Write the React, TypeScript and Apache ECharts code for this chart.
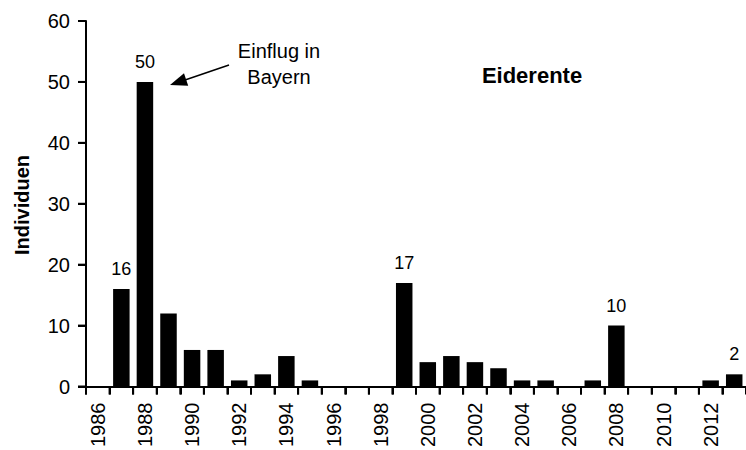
import React, { useEffect, useRef } from "react";
import * as echarts from "echarts";

const years: string[] = [
  "1986", "1987", "1988", "1989", "1990", "1991", "1992", "1993", "1994", "1995",
  "1996", "1997", "1998", "1999", "2000", "2001", "2002", "2003", "2004", "2005",
  "2006", "2007", "2008", "2009", "2010", "2011", "2012", "2013",
];
const individuen: number[] = [
  0, 16, 50, 12, 6, 6, 1, 2, 5, 1,
  0, 0, 0, 17, 4, 5, 4, 3, 1, 1,
  0, 1, 10, 0, 0, 0, 1, 2,
];
const labelledYears: string[] = ["1987", "1988", "1999", "2008", "2013"];
const yTickValues: number[] = [0, 10, 20, 30, 40, 50, 60];
const yTicks = { min: 0, max: 60, interval: 10 };
const titleText = "Eiderente";
const yAxisName = "Individuen";
const annotationText = "Einflug in\nBayern";

const FONT = "'Liberation Sans', Arial, sans-serif";
const TICK_LEN = 8;

export default function App() {
  const ref = useRef<HTMLDivElement>(null);
  useEffect(() => {
    if (!ref.current) return;
    const chart = echarts.init(ref.current, undefined, { renderer: "svg" });
    chart.setOption({
      animation: false,
      backgroundColor: "#ffffff",
      grid: { left: 86, right: -4.5, top: 21, bottom: 62 },
      xAxis: {
        type: "category",
        data: years,
        axisLine: { show: true, lineStyle: { color: "#000", width: 2 } },
        axisTick: { show: true, interval: 0, length: TICK_LEN, lineStyle: { color: "#000", width: 2 } },
        axisLabel: {
          interval: 1,
          rotate: 90,
          margin: 16,
          color: "#000",
          fontSize: 20,
          fontFamily: FONT,
        },
        splitLine: { show: false },
      },
      yAxis: {
        type: "value",
        min: yTicks.min,
        max: yTicks.max,
        interval: yTicks.interval,
        axisLine: { show: true, lineStyle: { color: "#000", width: 2 } },
        axisTick: { show: true, length: TICK_LEN, lineStyle: { color: "#000", width: 2 } },
        axisLabel: { margin: 16, color: "#000", fontSize: 20, fontFamily: FONT },
        splitLine: { show: false },
      },
      series: [
        {
          type: "bar",
          data: individuen.map((v, i) => ({
            value: v,
            label: { show: labelledYears.includes(years[i]) },
          })),
          barCategoryGap: "30%",
          itemStyle: { color: "#000" },
          label: {
            position: "top",
            distance: 11,
            color: "#000",
            fontSize: 18,
            fontFamily: FONT,
          },
        },
        {
          type: "custom",
          silent: true,
          clip: false,
          z: 10,
          data: yTickValues.map((v) => [0, v]),
          renderItem: (params: any, api: any) => {
            const p = api.coord([api.value(0), api.value(1)]);
            const x0 = params.coordSys.x;
            return {
              type: "line",
              shape: { x1: x0 - TICK_LEN, y1: p[1], x2: x0, y2: p[1] },
              style: { stroke: "#000", lineWidth: 2 },
            };
          },
        },
        {
          type: "custom",
          silent: true,
          clip: false,
          z: 10,
          data: years.map((_, i) => [i, 0]),
          renderItem: (params: any, api: any) => {
            const p = api.coord([api.value(0), 0]);
            const bw = api.size([1, 0])[0];
            const x = p[0] - bw / 2;
            return {
              type: "line",
              shape: { x1: x, y1: p[1], x2: x, y2: p[1] + TICK_LEN },
              style: { stroke: "#000", lineWidth: 2 },
            };
          },
        },
      ],
      graphic: [
        {
          type: "text",
          x: 532,
          y: 75,
          style: {
            text: titleText,
            fill: "#000",
            font: `bold 22px ${FONT}`,
            align: "center",
            verticalAlign: "middle",
          },
        },
        {
          type: "text",
          x: 22,
          y: 205,
          rotation: Math.PI / 2,
          style: {
            text: yAxisName,
            fill: "#000",
            font: `bold 20px ${FONT}`,
            align: "center",
            verticalAlign: "middle",
          },
        },
        {
          type: "text",
          x: 279,
          y: 64,
          style: {
            text: annotationText,
            fill: "#000",
            font: `20px ${FONT}`,
            lineHeight: 26,
            align: "center",
            verticalAlign: "middle",
          },
        },
        {
          type: "line",
          shape: { x1: 229, y1: 65, x2: 185, y2: 80 },
          style: { stroke: "#000", lineWidth: 1.5 },
        },
        {
          type: "polygon",
          shape: {
            points: [
              [170, 85],
              [188.2, 85.7],
              [184.0, 73.3],
            ],
          },
          style: { fill: "#000" },
        },
      ],
    });
    return () => chart.dispose();
  }, []);
  return <div ref={ref} style={{ width: 746, height: 450, position: "absolute", left: 0, top: 0 }} />;
}
